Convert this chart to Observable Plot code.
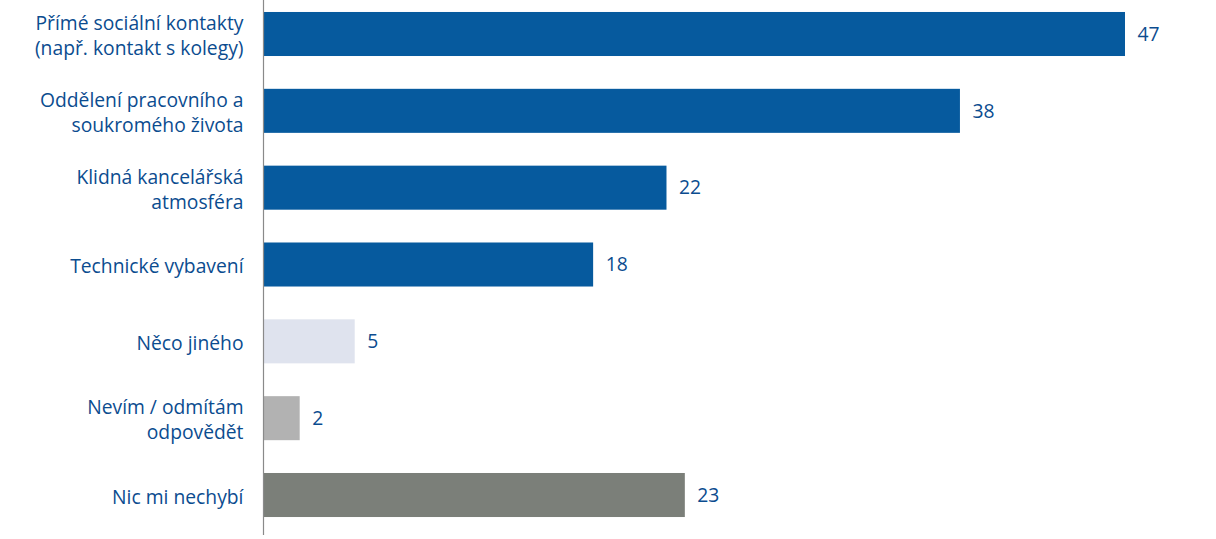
<!DOCTYPE html>
<html><head><meta charset="utf-8">
<script src="https://cdn.jsdelivr.net/npm/d3@7"></script>
<script src="https://cdn.jsdelivr.net/npm/@observablehq/plot@0.6"></script>
<style>body{margin:0;background:#fff;} svg{display:block;}</style>
</head><body><div id="chart"></div>
<script>
const categories = [
  "Přímé sociální kontakty\n(např. kontakt s kolegy)",
  "Oddělení pracovního a\nsoukromého života",
  "Klidná kancelářská\natmosféra",
  "Technické vybavení",
  "Něco jiného",
  "Nevím / odmítám\nodpovědět",
  "Nic mi nechybí"
];
const values = [47, 38, 22, 18, 5, 2, 23];
const colors = ["#065A9E", "#065A9E", "#065A9E", "#065A9E", "#DFE3EE", "#B2B2B2", "#7B7F79"];

const data = categories.map((c, i) => ({category: c, value: values[i], color: colors[i]}));
const textColor = "#0B4C8F";

const chart = Plot.plot({
  width: 1216,
  height: 539,
  marginLeft: 263,
  marginRight: 91,
  marginTop: 0,
  marginBottom: 4,
  style: {fontFamily: "'Open Sans', Lato, sans-serif", fontSize: "19.3px", color: textColor, background: "#fff"},
  x: {domain: [0, 47], axis: null},
  y: {domain: categories, paddingInner: 0.427, paddingOuter: 0.195, align: 0.4, round: false, label: null},
  marks: [
    Plot.barX(data, {x: "value", y: "category", fill: "color"}),
    Plot.text(data, {x: "value", y: "category", text: d => String(d.value), textAnchor: "start", dx: 12, fill: textColor, fontSize: 19.3}),
    Plot.ruleX([0], {stroke: "#8a8a8a", strokeWidth: 1.2}),
    Plot.axisY({tickSize: 0, tickPadding: 20, fontSize: 19.3, fill: textColor, lineHeight: 1.3, label: null})
  ]
});
document.getElementById("chart").appendChild(chart);
</script>
</body></html>
